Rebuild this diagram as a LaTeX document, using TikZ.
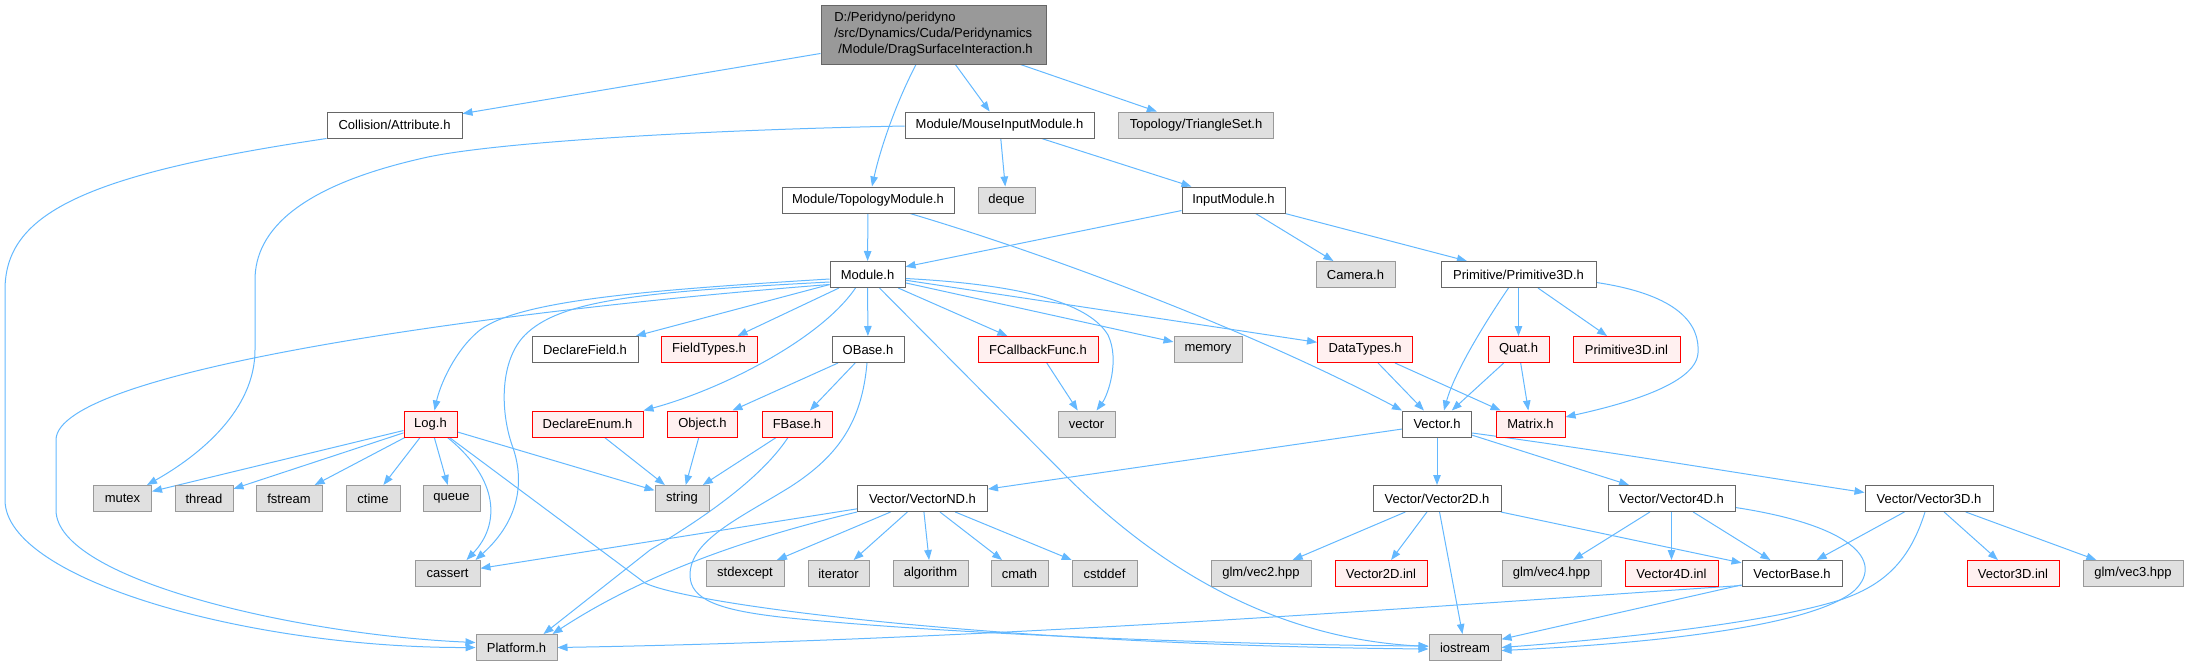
\documentclass[tikz,border=0pt]{standalone}
\usepackage{fontspec}
\setmainfont{Liberation Sans}
\usetikzlibrary{arrows.meta}
\definecolor{edgeblue}{HTML}{63B8FF}
\definecolor{bordgray}{HTML}{666666}
\definecolor{extfill}{HTML}{E0E0E0}
\definecolor{extbord}{HTML}{999999}
\definecolor{redfill}{HTML}{FFF0F0}
\definecolor{redbord}{HTML}{FF0000}
\definecolor{rootfill}{HTML}{999999}
\pgfdeclarelayer{bg}
\pgfsetlayers{bg,main}
\tikzset{
  base/.style={draw, line width=1pt, inner sep=0pt, minimum height=26pt, anchor=center,
    font=\fontsize{13}{16}\selectfont},
  doc/.style={base, draw=bordgray, fill=white},
  ext/.style={base, draw=extbord, fill=extfill},
  trunc/.style={base, draw=redbord, fill=redfill},
  edge/.style={draw=edgeblue, line width=1pt, -{Triangle[length=10pt,width=7.5pt]}},
}
\begin{document}
\begin{tikzpicture}[x=1pt,y=-1pt]
\useasboundingbox (0,0) rectangle (2188,667);
% nodes
\node[doc, fill=rootfill, minimum width=225pt, minimum height=59pt, align=left] (root) at (933.5,34.5)
  {D:/Peridyno/peridyno\\/src/Dynamics/Cuda/Peridynamics\\\hspace*{4pt}/Module/DragSurfaceInteraction.h};
\node[doc, minimum width=135pt] (coll) at (394.5,125) {Collision/Attribute.h};
\node[doc, minimum width=189pt] (mim) at (999.5,125) {Module/MouseInputModule.h};
\node[ext, minimum width=155pt] (tri) at (1196,125) {Topology/TriangleSet.h};
\node[doc, minimum width=172pt] (topo) at (868,200) {Module/TopologyModule.h};
\node[ext, minimum width=57pt] (deque) at (1006.5,200) {deque};
\node[doc, minimum width=103pt] (inmod) at (1233.5,200) {InputModule.h};
\node[doc, minimum width=75pt] (mod) at (867.5,274.5) {Module.h};
\node[ext, minimum width=79pt] (cam) at (1355.5,274.5) {Camera.h};
\node[doc, minimum width=155pt] (prim) at (1518.5,274.5) {Primitive/Primitive3D.h};
\node[doc, minimum width=106pt] (dfield) at (585,349.5) {DeclareField.h};
\node[trunc, minimum width=96pt] (ftypes) at (709,349.5) {FieldTypes.h};
\node[doc, minimum width=72pt] (obase) at (868,349.5) {OBase.h};
\node[trunc, minimum width=120pt] (fcb) at (1038,349.5) {FCallbackFunc.h};
\node[ext, minimum width=68pt] (memory) at (1208,349.5) {memory};
\node[trunc, minimum width=95pt] (dtypes) at (1365,349.5) {DataTypes.h};
\node[trunc, minimum width=61pt] (quat) at (1518.5,349.5) {Quat.h};
\node[trunc, minimum width=107pt] (priminl) at (1626.5,349.5) {Primitive3D.inl};
\node[trunc, minimum width=53pt] (log) at (430.5,424) {Log.h};
\node[trunc, minimum width=111pt] (denum) at (587.5,424) {DeclareEnum.h};
\node[trunc, minimum width=70pt] (object) at (702.5,424) {Object.h};
\node[trunc, minimum width=70pt] (fbase) at (797,424) {FBase.h};
\node[ext, minimum width=57pt] (vector) at (1086.5,424) {vector};
\node[doc, minimum width=69pt] (vec) at (1437,424) {Vector.h};
\node[trunc, minimum width=69pt] (matrix) at (1530.5,424) {Matrix.h};
\node[ext, minimum width=58pt] (mutex) at (122.5,498.5) {mutex};
\node[ext, minimum width=58pt] (thread) at (204,498.5) {thread};
\node[ext, minimum width=66pt] (fstream) at (289,498.5) {fstream};
\node[ext, minimum width=54pt] (ctime) at (373,498.5) {ctime};
\node[ext, minimum width=57pt] (queue) at (451.5,498.5) {queue};
\node[ext, minimum width=54pt] (string) at (682,498.5) {string};
\node[doc, minimum width=130pt] (vnd) at (922.5,498.5) {Vector/VectorND.h};
\node[doc, minimum width=128pt] (v2d) at (1437,498.5) {Vector/Vector2D.h};
\node[doc, minimum width=127pt] (v4d) at (1671.5,498.5) {Vector/Vector4D.h};
\node[doc, minimum width=128pt] (v3d) at (1929,498.5) {Vector/Vector3D.h};
\node[ext, minimum width=65pt] (cassert) at (447.5,573.5) {cassert};
\node[ext, minimum width=78pt] (stdexcept) at (745,573.5) {stdexcept};
\node[ext, minimum width=61pt] (iterator) at (838.5,573.5) {iterator};
\node[ext, minimum width=75pt] (algorithm) at (930.5,573.5) {algorithm};
\node[ext, minimum width=57pt] (cmath) at (1019.5,573.5) {cmath};
\node[ext, minimum width=65pt] (cstddef) at (1104.5,573.5) {cstddef};
\node[ext, minimum width=100pt] (vec2hpp) at (1261,573.5) {glm/vec2.hpp};
\node[trunc, minimum width=92pt] (v2dinl) at (1381,573.5) {Vector2D.inl};
\node[ext, minimum width=99pt] (vec4hpp) at (1551.5,573.5) {glm/vec4.hpp};
\node[trunc, minimum width=93pt] (v4dinl) at (1671.5,573.5) {Vector4D.inl};
\node[doc, minimum width=100pt] (vbase) at (1792,573.5) {VectorBase.h};
\node[trunc, minimum width=92pt] (v3dinl) at (2013,573.5) {Vector3D.inl};
\node[ext, minimum width=100pt] (vec3hpp) at (2133,573.5) {glm/vec3.hpp};
\node[ext, minimum width=81pt] (platform) at (516.5,647.5) {Platform.h};
\node[ext, minimum width=72pt] (iostream) at (1465,647.5) {iostream};
% edges
\begin{pgfonlayer}{bg}
\draw[edge] (root) -- (coll);
\draw[edge] ([xshift=-17.5pt]root.south) .. controls (895,105) and (880,150) .. ([xshift=4pt]topo.north);
\draw[edge] (root) -- (mim);
\draw[edge] (root) -- (tri);
\draw[edge] (coll.south west) .. controls (80,175) and (5,215) .. (5,290) -- (5,500)
  .. controls (5,580) and (250,648) .. (platform.west);
\draw[edge] ([yshift=-1pt]mim.west) .. controls (700,130) and (500,142) .. (428,157)
  .. controls (300,185) and (255,230) .. (255,280) -- (255,350)
  .. controls (255,410) and (200,455) .. ([xshift=-5pt]mutex.north east);
\draw[edge] (mim) -- (deque);
\draw[edge] (mim) -- (inmod);
\draw[edge] (topo) -- (mod);
\draw[edge] ([xshift=42pt]topo.south) .. controls (1050,255) and (1250,330) .. (vec.north west);
\draw[edge] (inmod) -- (mod);
\draw[edge] (inmod) -- (cam);
\draw[edge] (inmod) -- (prim);
\draw[edge] ([xshift=-10pt]prim.south) .. controls (1490,315) and (1455,370) .. ([xshift=7pt]vec.north);
\draw[edge] (prim) -- (quat);
\draw[edge] (prim) -- (priminl);
\draw[edge] ([yshift=-8pt]prim.east) .. controls (1680,295) and (1700,325) .. (1698,353)
  .. controls (1696,385) and (1620,405) .. ([yshift=7pt]matrix.east);
% Module.h
\draw[edge] (mod) -- (dfield);
\draw[edge] (mod) -- (ftypes);
\draw[edge] (mod) -- (obase);
\draw[edge] (mod) -- (fcb);
\draw[edge] (mod) -- (memory);
\draw[edge] (mod) -- (dtypes);
\draw[edge] ([yshift=-4pt]mod.east) .. controls (1030,285) and (1090,305) .. (1108,335)
  .. controls (1120,360) and (1108,395) .. ([xshift=10pt]vector.north);
\draw[edge] ([xshift=12pt]mod.south) -- (1065,475) .. controls (1180,590) and (1300,640) .. ([yshift=1pt]iostream.west);
\draw[edge] ([xshift=-12pt]mod.south) .. controls (820,340) and (720,390) .. (denum.north east);
\draw[edge] ([yshift=-4.5pt]mod.west) .. controls (650,290) and (520,300) .. (480,330)
  .. controls (455,350) and (440,385) .. ([xshift=4pt]log.north);
\draw[edge] ([yshift=-7.5pt]mod.west) .. controls (640,292) and (560,300) .. (525,335)
  .. controls (500,360) and (500,410) .. (512,445) .. controls (525,480) and (520,520) .. ([xshift=-5pt]cassert.north east);
\draw[edge] ([yshift=-10pt]mod.west) .. controls (500,310) and (56,370) .. (56,440) -- (56,510)
  .. controls (56,580) and (300,635) .. ([yshift=5pt]platform.west);
% second level
\draw[edge] (dtypes) -- (vec);
\draw[edge] (dtypes) -- (matrix);
\draw[edge] (quat) -- (vec);
\draw[edge] (quat) -- (matrix);
\draw[edge] (fcb) -- (vector);
\draw[edge] (obase) -- (object);
\draw[edge] (obase) -- (fbase);
\draw[edge] ([xshift=-1pt]obase.south) .. controls (862,420) and (840,455) .. (790,487)
  .. controls (740,518) and (690,540) .. (690,575) .. controls (690,600) and (720,610) .. (780,617)
  .. controls (950,635) and (1250,645) .. ([yshift=1.5pt]iostream.west);
\draw[edge] (object) -- (string);
\draw[edge] (fbase) -- (string);
\draw[edge] ([xshift=-9pt]fbase.south) .. controls (760,480) and (700,520) .. (650,550) -- ([xshift=-14pt]platform.north east);
\draw[edge] (denum) -- (string);
% Log.h
\draw[edge] (log) -- (string);
\draw[edge] (log) -- (mutex);
\draw[edge] (log) -- (thread);
\draw[edge] (log) -- (fstream);
\draw[edge] (log) -- (ctime);
\draw[edge] (log) -- (queue);
\draw[edge] ([xshift=17pt]log.south) .. controls (500,480) and (500,525) .. ([xshift=-14pt]cassert.north east);
\draw[edge] ([xshift=19pt]log.south) -- (645,583) .. controls (690,605) and (1000,645) .. ([yshift=-1.5pt]iostream.west);
% Vector.h
\draw[edge] (vec) -- (vnd);
\draw[edge] (vec) -- (v2d);
\draw[edge] (vec) -- (v4d);
\draw[edge] ([yshift=-9pt]vec.east) .. controls (1600,450) and (1750,475) .. ([yshift=6pt]v3d.west);
% VectorND
\draw[edge] (vnd) -- (cassert);
\draw[edge] (vnd.south west) .. controls (760,535) and (650,570) .. ([xshift=-5pt]platform.north east);
\draw[edge] (vnd) -- (stdexcept);
\draw[edge] (vnd) -- (iterator);
\draw[edge] (vnd) -- (algorithm);
\draw[edge] (vnd) -- (cmath);
\draw[edge] (vnd) -- (cstddef);
% Vector2D
\draw[edge] (v2d) -- (vec2hpp);
\draw[edge] (v2d) -- (v2dinl);
\draw[edge] (v2d) -- (iostream);
\draw[edge] (v2d) -- (vbase);
% Vector4D
\draw[edge] (v4d) -- (vec4hpp);
\draw[edge] (v4d) -- (v4dinl);
\draw[edge] (v4d) -- (vbase);
\draw[edge] ([yshift=-9pt]v4d.east) .. controls (1850,525) and (1885,560) .. (1855,590)
  .. controls (1810,630) and (1620,645) .. ([yshift=-3pt]iostream.east);
% Vector3D
\draw[edge] (v3d) -- (vbase);
\draw[edge] (v3d) -- (v3dinl);
\draw[edge] (v3d) -- (vec3hpp);
\draw[edge] ([xshift=-4pt]v3d.south) .. controls (1910,560) and (1885,585) .. (1840,600)
  .. controls (1760,625) and (1600,640) .. ([yshift=0pt]iostream.east);
% VectorBase
\draw[edge] (vbase) -- (iostream);
\draw[edge] ([yshift=-12pt]vbase.west) .. controls (1450,605) and (1000,640) .. (platform.east);
\end{pgfonlayer}
\end{tikzpicture}
\end{document}
